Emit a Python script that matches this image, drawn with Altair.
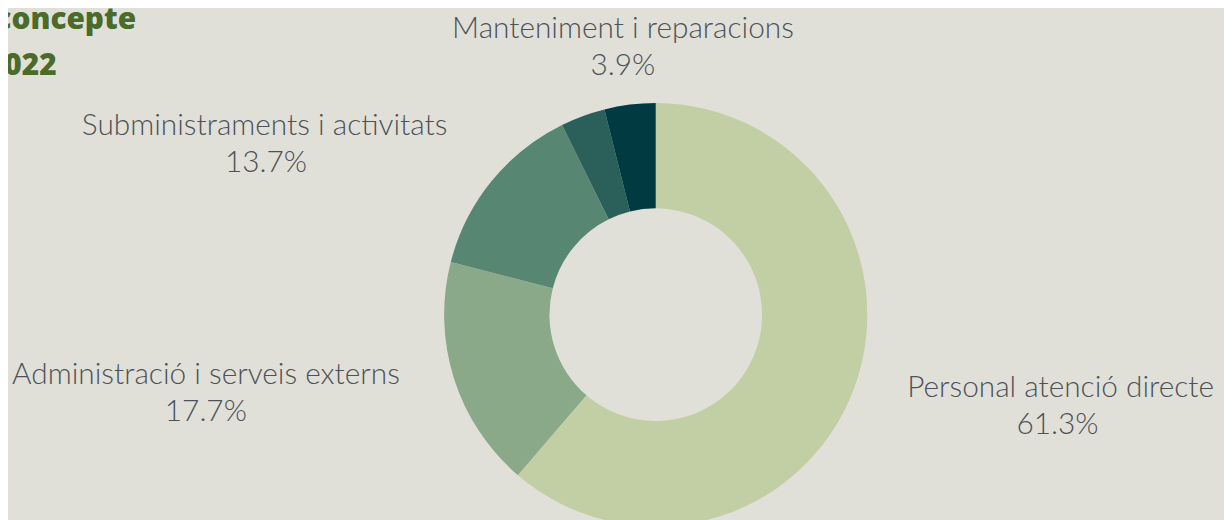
import altair as alt
import pandas as pd

# ---- data ----
categories = [
    "Personal atenció directe",
    "Administració i serveis externs",
    "Subministraments i activitats",
    "Altres",
    "Manteniment i reparacions",
]
percents = [61.3, 17.7, 13.7, 3.4, 3.9]
show_label = [True, True, True, False, True]
colors = ["#c2cfa4", "#8aa988", "#578673", "#2b5f5a", "#013b41"]
title_lines = ["Despesa per concepte", "Despesa any 2022"]

df = pd.DataFrame({
    "cat": categories,
    "pct": percents,
    "idx": list(range(len(categories))),
    "show": show_label,
})
total = float(sum(percents))

# ---- layout / style ----
W, H = 1224, 512
CX, CY = 652, 307
R_OUT, R_IN, R_LAB = 213, 107, 270
BG = "#e1e0d8"
TXT = "#4d5258"
FONT = "Lato"
FS = 30
HALF_CHAR = 6.3

theta_scale = alt.Scale(domain=[0, total])

base = alt.Chart(df)

arcs = base.mark_arc(innerRadius=R_IN, outerRadius=R_OUT).encode(
    theta=alt.Theta("pct:Q", stack=True, scale=theta_scale),
    color=alt.Color("cat:N", scale=alt.Scale(domain=categories, range=colors), legend=None),
    order=alt.Order("idx:Q"),
    x=alt.value(CX),
    y=alt.value(CY),
)

lab = (
    base.transform_joinaggregate(tot="sum(pct)")
    .transform_window(cum="sum(pct)", sort=[alt.SortField("idx")], frame=[None, 0])
    .transform_calculate(
        mid="datum.cum - datum.pct / 2",
        s="sin(2 * PI * (datum.cum - datum.pct / 2) / datum.tot)",
    )
    .transform_calculate(
        side="datum.s > 0.3 ? 1 : (datum.s < -0.3 ? -1 : 0)",
        pct_label="format(datum.pct, '.1f') + '%'",
    )
    .transform_filter("datum.show")
)

enc = dict(
    theta=alt.Theta("mid:Q", stack=False, scale=theta_scale),
    radius=alt.value(R_LAB),
    x=alt.value(CX),
    y=alt.value(CY),
)

name_layer = lab.mark_text(
    align=alt.expr("datum.side > 0 ? 'left' : (datum.side < 0 ? 'right' : 'center')"),
    baseline="alphabetic", font=FONT, fontSize=FS, fontWeight=300, color=TXT, dy=-11,
).encode(text=alt.Text("cat:N"), **enc)

pct_layer = lab.mark_text(
    align="center", baseline="alphabetic", font=FONT, fontSize=FS, fontWeight=300,
    color=TXT, dy=26.5,
    dx=alt.expr(f"datum.side * length(datum.cat) * {HALF_CHAR}"),
).encode(text=alt.Text("pct_label:N"), **enc)

def title_layer(text, xpos, ypos):
    return alt.Chart(pd.DataFrame({"t": [text]})).mark_text(
        align="right", baseline="alphabetic", font="Open Sans", fontSize=30,
        fontWeight=800, color="#4a6b2a",
    ).encode(text="t:N", x=alt.value(xpos), y=alt.value(ypos))

title1 = title_layer(title_lines[0], 129, 19)
title2 = title_layer(title_lines[1], 49, 66)

chart = alt.layer(arcs, name_layer, pct_layer, title1, title2).properties(
    width=W,
    height=H,
    padding=0,
    background=BG,
    autosize=alt.AutoSizeParams(type="none"),
).configure_view(stroke=None)

chart.save("out.html", embed_options={"renderer": "svg", "actions": False})
